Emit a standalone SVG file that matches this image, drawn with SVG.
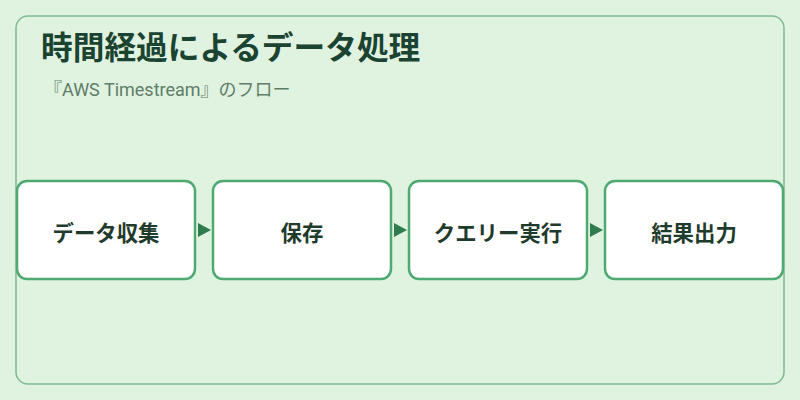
<svg xmlns="http://www.w3.org/2000/svg" width="800" height="400" viewBox="0 0 800 400">
<style>
.frame{fill:#e0f2e0;stroke:#7dbb93;stroke-width:1.5}
.node rect{fill:#ffffff;stroke:#4eaa70;stroke-width:2.5}
.node text{font-family:"Noto Sans CJK JP","Noto Sans",sans-serif;font-size:21.4px;font-weight:bold;fill:#1f3b2c;text-anchor:middle;dominant-baseline:central}
.title{font-family:"Noto Sans CJK JP","Noto Sans",sans-serif;font-size:31.7px;font-weight:bold;fill:#1b4332}
.sub{font-family:"Roboto","Noto Sans CJK JP",sans-serif;font-size:18px;fill:#5f7d69}
.arrow{fill:#2f7d4f}
</style>
<rect x="0" y="0" width="800" height="400" fill="#e0f2e0"/>
<rect class="frame" x="16" y="16" width="768" height="368" rx="12"/>
<text class="title" x="41" y="59">時間経過によるデータ処理</text>
<text class="sub" x="44" y="96">『AWS Timestream』のフロー</text>
<g id="connectors">
<polygon class="arrow" points="198,223 211,230 198,237"/>
<polygon class="arrow" points="394,223 407,230 394,237"/>
<polygon class="arrow" points="590,223 603,230 590,237"/>
</g>
<g id="node1" class="node"><rect x="17" y="181" width="178" height="98" rx="10"/><text x="106" y="231">データ収集</text></g>
<g id="node2" class="node"><rect x="213" y="181" width="178" height="98" rx="10"/><text x="302" y="231">保存</text></g>
<g id="node3" class="node"><rect x="409" y="181" width="178" height="98" rx="10"/><text x="498" y="231">クエリー実行</text></g>
<g id="node4" class="node"><rect x="605" y="181" width="178" height="98" rx="10"/><text x="694" y="231">結果出力</text></g>
</svg>
